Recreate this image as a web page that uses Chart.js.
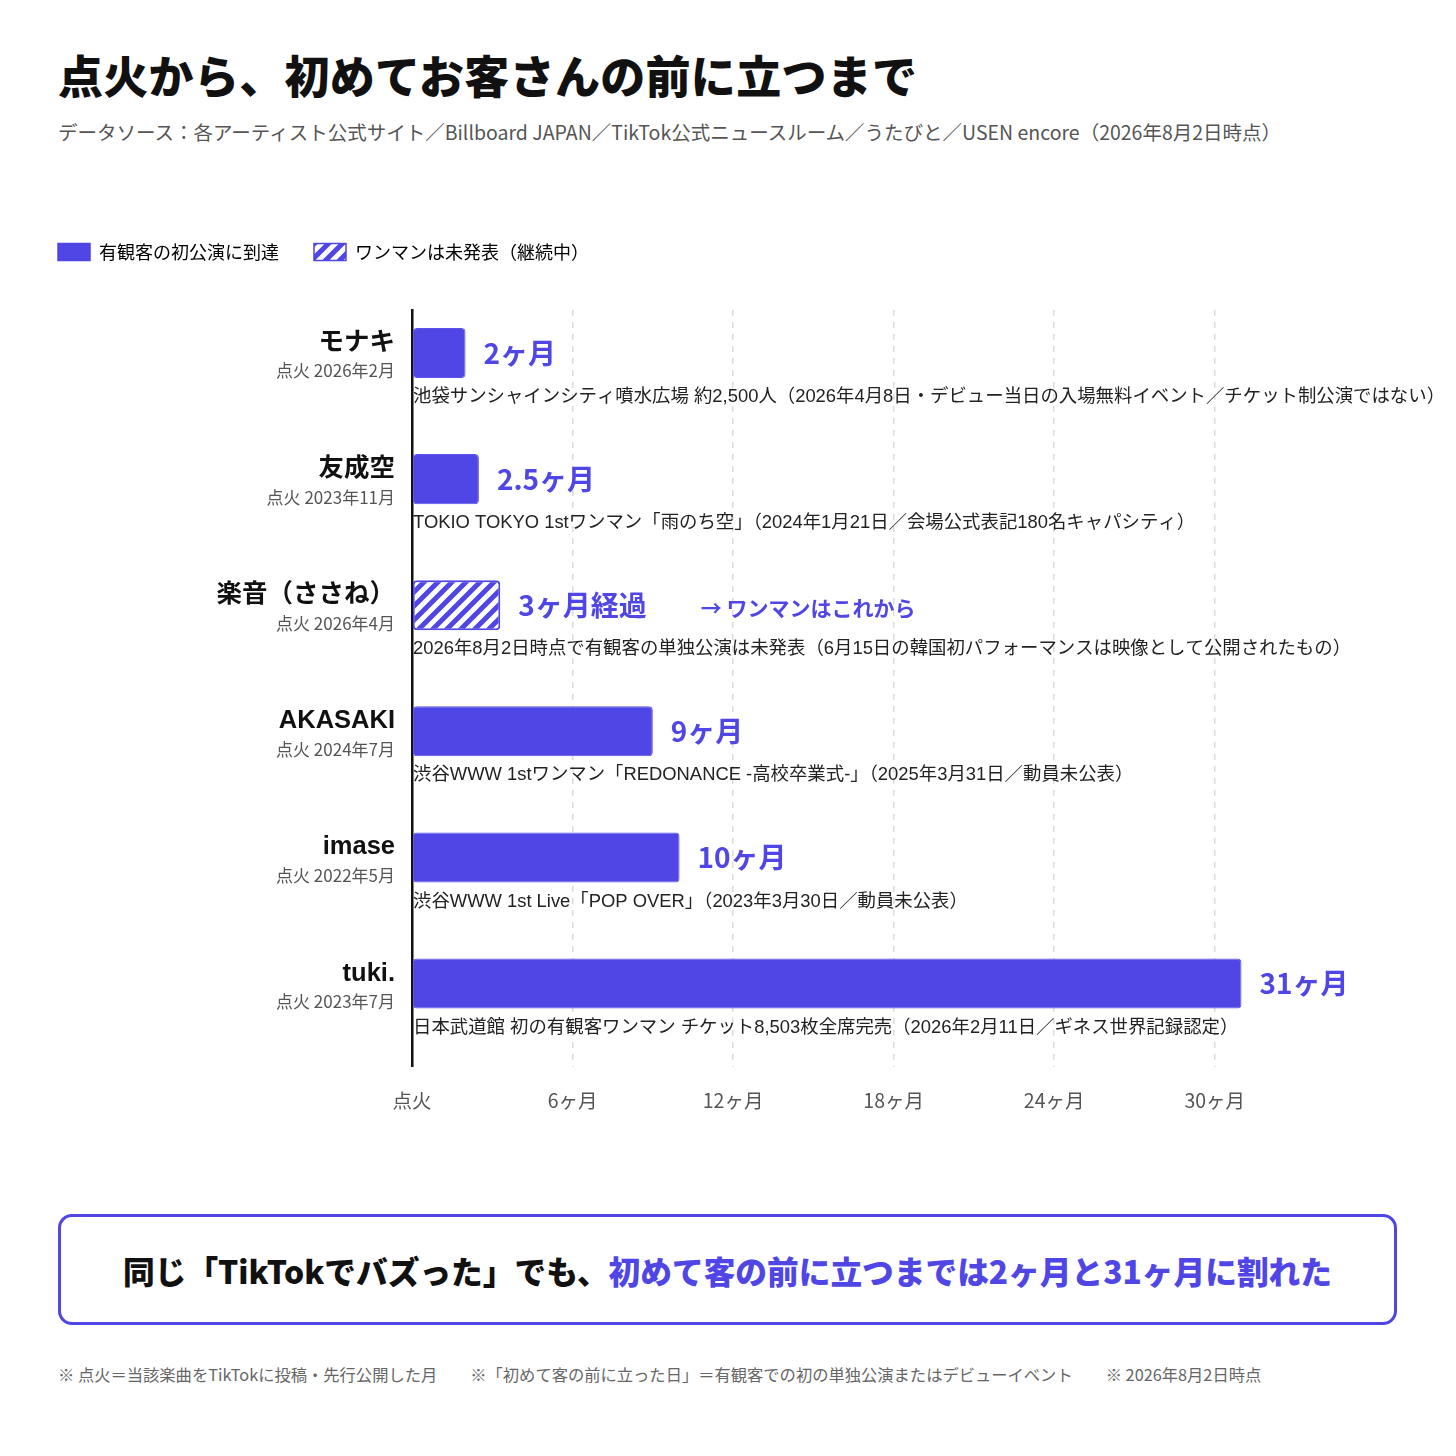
<!DOCTYPE html>
<html lang="ja">
<head>
<meta charset="utf-8">
<script src="https://cdn.jsdelivr.net/npm/chart.js@4.4.1/dist/chart.umd.min.js"></script>
<style>
  html, body { margin: 0; padding: 0; background: #fff; }
  body { width: 1456px; height: 1456px; position: relative; font-family: "Noto Sans CJK JP", "Noto Sans", sans-serif; color: #111; }
  h1 { position: absolute; left: 58px; top: 48px; margin: 0; font-size: 45px; font-weight: 900; letter-spacing: 0.3px; line-height: 1.2; }
  .sub { position: absolute; left: 58px; top: 117px; font-size: 19.5px; color: #555; }
  #wrap { position: absolute; left: 0; top: 208px; width: 1456px; height: 926px; }
  .callout { position: absolute; left: 58px; top: 1214px; width: 1333px; height: 105px; border: 3px solid #4f46e5; border-radius: 14px;
    display: flex; align-items: center; justify-content: center; font-size: 31.7px; font-weight: 900; }
  .callout span { color: #4f46e5; }
  .notes { position: absolute; left: 58px; top: 1362px; font-size: 16.3px; color: #666; white-space: pre; }
  .notes span { margin-right: 33px; }
</style>
</head>
<body>
<h1>点火から、初めてお客さんの前に立つまで</h1>
<div class="sub">データソース：各アーティスト公式サイト／Billboard JAPAN／TikTok公式ニュースルーム／うたびと／USEN encore（2026年8月2日時点）</div>
<div id="wrap"><canvas id="chart"></canvas></div>
<div class="callout">同じ「TikTokでバズった」でも、<span>初めて客の前に立つまでは2ヶ月と31ヶ月に割れた</span></div>
<div class="notes"><span>※ 点火＝当該楽曲をTikTokに投稿・先行公開した月</span><span>※「初めて客の前に立った日」＝有観客での初の単独公演またはデビューイベント</span><span>※ 2026年8月2日時点</span></div>

<script>
// データ
const artists = ['モナキ', '友成空', '楽音（ささね）', 'AKASAKI', 'imase', 'tuki.'];
const ignition = ['点火 2026年2月', '点火 2023年11月', '点火 2026年4月', '点火 2024年7月', '点火 2022年5月', '点火 2023年7月'];
const months = [2, 2.5, 3.3, 9, 10, 31];
const valueLabels = ['2ヶ月', '2.5ヶ月', '3ヶ月経過', '9ヶ月', '10ヶ月', '31ヶ月'];
const ongoing = [false, false, true, false, false, false];
const eventNotes = [
    '池袋サンシャインシティ噴水広場 約2,500人（2026年4月8日・デビュー当日の入場無料イベント／チケット制公演ではない）',
    'TOKIO TOKYO 1stワンマン「雨のち空」（2024年1月21日／会場公式表記180名キャパシティ）',
    '2026年8月2日時点で有観客の単独公演は未発表（6月15日の韓国初パフォーマンスは映像として公開されたもの）',
    '渋谷WWW 1stワンマン「REDONANCE -高校卒業式-」（2025年3月31日／動員未公表）',
    '渋谷WWW 1st Live「POP OVER」（2023年3月30日／動員未公表）',
    '日本武道館 初の有観客ワンマン チケット8,503枚全席完売（2026年2月11日／ギネス世界記録認定）'
];
const xTicks = [0, 6, 12, 18, 24, 30];
const legendLabels = ['有観客の初公演に到達', 'ワンマンは未発表（継続中）'];

const BLUE = '#4f46e5';
const JP = '"Noto Sans CJK JP", sans-serif';
const LAT = '"Liberation Sans", "Noto Sans CJK JP", sans-serif';

// 斜線パターン
function makeHatch() {
    const c = document.createElement('canvas');
    c.width = 14; c.height = 14;
    const g = c.getContext('2d');
    g.fillStyle = '#fff';
    g.fillRect(0, 0, 14, 14);
    g.strokeStyle = BLUE;
    g.lineWidth = 5;
    g.beginPath();
    g.moveTo(-2, 16); g.lineTo(16, -2);
    g.moveTo(-9, 9); g.lineTo(9, -9);
    g.moveTo(5, 23); g.lineTo(23, 5);
    g.stroke();
    return document.getElementById('chart').getContext('2d').createPattern(c, 'repeat');
}
const hatch = makeHatch();

// ラベル描画
const labelPlugin = {
    id: 'labels',
    afterInit(chart) {
        const orig = chart.legend.fit;
        chart.legend.fit = function () { orig.call(this); this.height += 39; };
    },
    afterDatasetsDraw(chart) {
        const ctx = chart.ctx;
        const meta = chart.getDatasetMeta(0);
        const left = chart.scales.x.left;
        ctx.save();
        meta.data.forEach((bar, i) => {
            const y = bar.y;
            ctx.textBaseline = 'middle';
            // 名前
            ctx.textAlign = 'right';
            ctx.fillStyle = '#111';
            ctx.font = 'bold 25.5px ' + LAT;
            ctx.fillText(artists[i], 395, y - 10);
            ctx.fillStyle = '#555';
            ctx.font = '17px ' + JP;
            ctx.fillText(ignition[i], 395, y + 18);
            // 値
            ctx.textAlign = 'left';
            ctx.fillStyle = BLUE;
            ctx.font = 'bold 28px ' + JP;
            const vx = bar.x + 18;
            ctx.fillText(valueLabels[i], vx, y);
            if (ongoing[i]) {
                const w = ctx.measureText(valueLabels[i]).width;
                ctx.font = 'bold 21px ' + JP;
                ctx.fillText('→ ワンマンはこれから', vx + w + 54, y + 3);
            }
            // 注記
            ctx.fillStyle = '#222';
            ctx.font = '18.4px ' + LAT;
            ctx.fillText(eventNotes[i], left + 1, y + 44);
        });
        ctx.restore();
    }
};

const ctx = document.getElementById('chart').getContext('2d');
new Chart(ctx, {
    type: 'bar',
    data: {
        labels: artists,
        datasets: [{
            data: months,
            backgroundColor: ongoing.map(o => o ? hatch : BLUE),
            borderColor: ongoing.map(o => o ? BLUE : '#5b54ea'),
            borderWidth: ongoing.map(o => o ? 2 : 1),
            borderRadius: 4,
            borderSkipped: false
        }, {
            data: months.map(() => null)
        }]
    },
    options: {
        indexAxis: 'y',
        responsive: true,
        maintainAspectRatio: false,
        animation: false,
        categoryPercentage: 80 / 126,
        barPercentage: 1.25,
        layout: { padding: { left: 23, right: 161, top: 0, bottom: 0 } },
        scales: {
            x: {
                min: 0,
                max: 33,
                afterBuildTicks: (s) => { s.ticks = xTicks.map(v => ({ value: v })); },
                ticks: {
                    padding: 22,
                    color: '#555',
                    font: { family: JP, size: 19.5 },
                    callback: (v) => v === 0 ? '点火' : v + 'ヶ月'
                },
                grid: {
                    color: (c) => c.tick && c.tick.value === 0 ? 'rgba(0,0,0,0)' : '#dcdcdc',
                    lineWidth: 1.5,
                    drawTicks: false,
                    tickLength: 0
                },
                border: { display: false, dash: [6, 6] }
            },
            y: {
                afterFit: (s) => { s.width = 389; },
                ticks: { display: false },
                grid: { display: false, drawTicks: false },
                border: { display: true, color: '#111', width: 2.5 }
            }
        },
        plugins: {
            legend: {
                position: 'top',
                align: 'start',
                labels: {
                    boxWidth: 32,
                    boxHeight: 17,
                    padding: 35,
                    color: '#222',
                    font: { family: JP, size: 18 },
                    generateLabels: () => legendLabels.map((t, i) => ({
                        text: t,
                        fillStyle: i === 0 ? BLUE : hatch,
                        strokeStyle: BLUE,
                        lineWidth: 1.5,
                        hidden: false,
                        datasetIndex: 0
                    }))
                },
                onClick: () => {}
            },
            tooltip: { enabled: false }
        }
    },
    plugins: [labelPlugin]
});
</script>
</body>
</html>
